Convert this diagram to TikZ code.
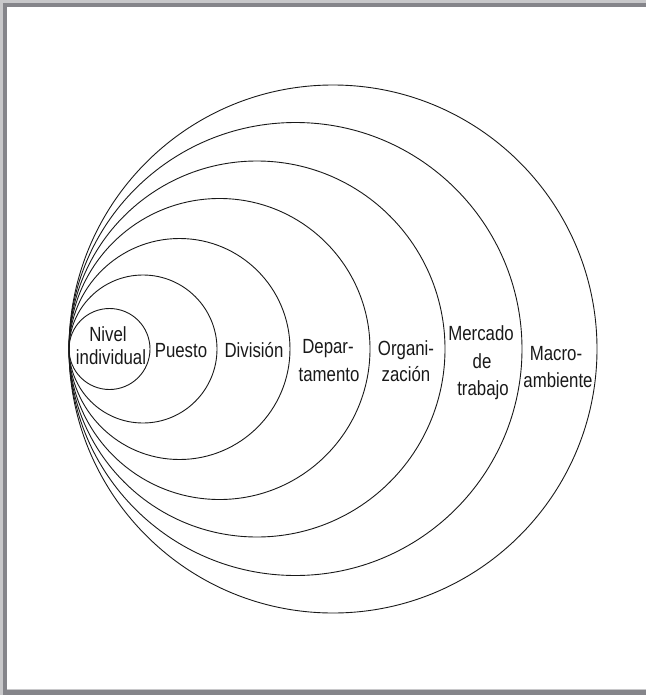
\documentclass[tikz,border=0pt]{standalone}
\usepackage{fontspec}
\setmainfont{Liberation Sans}[FakeStretch=0.82]
\usetikzlibrary{calc}
\definecolor{framegray}{HTML}{85858A}
\definecolor{framelight}{HTML}{C8C8CA}
\begin{document}
\begin{tikzpicture}[x=1pt,y=-1pt,
  ring/.style={draw=black!90, line width=0.9pt},
  lbl/.style={anchor=base, inner sep=0pt, font=\fontsize{20.5}{27.5}\selectfont, text=black!90},
  band/.style={fill=framegray, draw=none}]
\useasboundingbox (0,0) rectangle (646,695);
% frame
\fill[framelight] (0,0) rectangle (646,2.7);
\fill[framelight] (0,0) rectangle (2.7,695);
\path[band] (2.7,2.7) rectangle (646,7.4);
\path[band] (2.7,2.7) rectangle (7.4,695);
\path[band] (2.7,690) rectangle (646,695);
\fill[framelight] (7.4,689) rectangle (646,690);
% circles, all tangent at (69,349)
\coordinate (tan) at (69,349);
\foreach \r/\n in {40.5/c1, 74/c2, 110.5/c3, 150.5/c4, 188/c5, 226.5/c6, 264/c7}{
  \node[ring, circle, minimum size=2*\r pt, inner sep=0pt] (\n) at ($(tan)+(\r,0)$) {};
}
% labels
\node[lbl] (l1a) at (108,341.7) {Nivel};
\node[lbl] (l1b) at (111,364.3) {individual};
\node[lbl] (l2) at (181,357.3) {Puesto};
\node[lbl] (l3) at (254,357) {División};
\node[lbl] (l4a) at (328,353) {Depar-};
\node[lbl] (l4b) at (329,381.5) {tamento};
\node[lbl] (l5a) at (406,355) {Organi-};
\node[lbl] (l5b) at (406,381.7) {zación};
\node[lbl] (l6a) at (481,340) {Mercado};
\node[lbl] (l6b) at (482,368) {de};
\node[lbl] (l6c) at (483,395) {trabajo};
\node[lbl] (l7a) at (556,360) {Macro-};
\node[lbl] (l7b) at (558,387.3) {ambiente};
\end{tikzpicture}
\end{document}
